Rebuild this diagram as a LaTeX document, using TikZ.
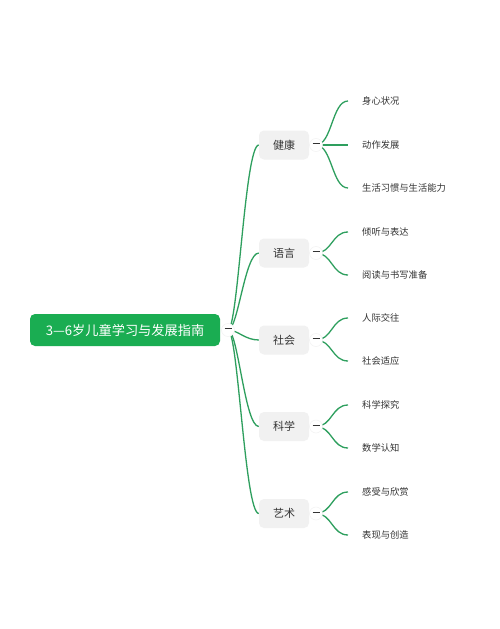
\documentclass[tikz,border=0pt]{standalone}
\usepackage{fontspec}
\setmainfont{Noto Sans CJK SC}
\usetikzlibrary{positioning, backgrounds}
\definecolor{cgreen}{HTML}{1AAD52}
\definecolor{cline}{HTML}{2E9F5E}
\definecolor{cbox}{HTML}{F1F1F1}
\definecolor{ctext}{HTML}{333333}
\definecolor{cring}{HTML}{F2F2F2}
\tikzset{
  root/.style={fill=cgreen, text=white, rounded corners=5pt, minimum width=190pt, minimum height=32pt, inner sep=0pt, font=\fontsize{13.2}{15}\selectfont},
  topic/.style={fill=cbox, text=ctext, rounded corners=5pt, minimum width=50pt, minimum height=29pt, inner sep=0pt, font=\fontsize{11}{13}\selectfont},
  fold/.style={circle, draw=cring, fill=white, line width=0.5pt, minimum size=13pt, inner sep=0pt},
  leaf/.style={anchor=west, text=ctext, inner xsep=14pt, inner ysep=0pt, font=\fontsize{9.3}{11}\selectfont},
  link/.style={draw=cline, line width=1.3pt},
}
\newcommand{\foldmark}{\textcolor{ctext}{\rule[2.5pt]{7pt}{1.1pt}}}

\begin{document}
\begin{tikzpicture}[x=1pt, y=-1pt]
  \useasboundingbox (0,0) rectangle (500,629);
  \node[root] (root) at (125,330) {3—6岁儿童学习与发展指南};
  \node[fold] (rootf) at (228,330) {\foldmark};
  % topics
  \foreach \n/\t/\y in {a/健康/145, b/语言/253, c/社会/340, d/科学/426.5, e/艺术/513.5} {
    \node[topic] (\n) at (284,\y) {\t};
    \node[fold] (\n f) at (316,\y) {\foldmark};
  }
  % leaves
  \foreach \p/\i/\t/\y in {a/1/身心状况/101, a/2/动作发展/145, a/3/生活习惯与生活能力/188,
      b/1/倾听与表达/232, b/2/阅读与书写准备/275, c/1/人际交往/318, c/2/社会适应/361,
      d/1/科学探究/405, d/2/数学认知/448, e/1/感受与欣赏/492, e/2/表现与创造/535}
    \node[leaf] (\p\i) at (348,\y) {\t};
  \begin{scope}[on background layer]
    \fill[white] (0,0) rectangle (500,629);
    \foreach \n in {a,b,c,d,e}
      \draw[link] (rootf.center) .. controls +(10,0) and +(-14,0) .. (\n.west);
    \foreach \p/\i in {a/1,a/2,a/3,b/1,b/2,c/1,c/2,d/1,d/2,e/1,e/2}
      \draw[link] (\p f.center) .. controls +(16,0) and +(-16,0) .. (\p\i.west);
  \end{scope}
\end{tikzpicture}
\end{document}
